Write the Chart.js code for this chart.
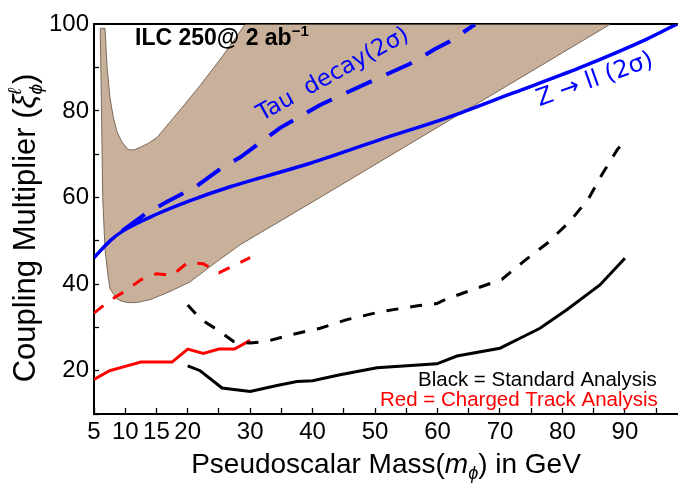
<!DOCTYPE html>
<html><head><meta charset="utf-8">
<script src="https://cdn.jsdelivr.net/npm/chart.js@4.4.0/dist/chart.umd.min.js"></script>
<style>html,body{margin:0;padding:0;background:#fff;}#wrap{width:678px;height:484px;position:relative;}</style>
</head><body><div id="wrap"><canvas id="c" width="678" height="484"></canvas></div>
<script>
// ---- data ----
const xTickLabels = [5,10,15,20,30,40,50,60,70,80,90];
const yTickLabels = [20,40,60,80,100];

const regionX = [6.0,6.76,7.1,7.56,8.1,8.68,9.5,10.44,11.4,12.4,13.8,15.1,17.2,19.5,22.0,25.5,29.2,87.6,40.0,28.4,24.0,20.36,17.0,13.96,12.0,10.76,9.5,8.68,7.56,7.24,6.76,6.4,6.2,6.0];
const regionY = [99.1,99.1,90.0,83.0,78.5,75.2,72.8,71.1,71.0,71.6,72.6,73.9,77.5,81.5,85.9,92.5,100,100,59.0,49.1,44.5,40.5,38.2,36.4,35.8,35.7,36.0,36.6,38.9,42.0,48.0,60.0,80.0,99.1];

const redSolidX = [5,7.5,10,12.5,15,17.5,20,22.5,25,27.5,30];
const redSolidY = [18,20,21,22,22,22,25,24,25,25,27];

const redDashedX = [5,7.5,10,12.5,15,17.5,20,22.5,25,27.5,30];
const redDashedY = [33.3,36.2,38.4,41.0,42.4,42.0,45.0,44.7,42.6,44.4,46.1];

const blackSolidX = [20,22,25.5,30,34.3,37.5,40,44.2,50.3,59.9,63.1,70,73.2,76.4,80.7,86,90];
const blackSolidY = [21.1,20.0,16.0,15.2,16.6,17.5,17.7,19.0,20.7,21.6,23.4,25.2,27.5,29.8,34.1,39.8,46.0];

const blackDashedX = [20,22,24.7,27.3,30,32.7,36.8,41.2,45.5,50.8,56.8,59.9,61.5,66,70.3,74,77.6,81.2,84.2,86.4,88.8,89.5];
const blackDashedY = [35.2,32.0,29.5,26.8,26.4,26.8,28.4,29.8,31.8,33.6,35.0,35.5,36.6,38.9,41.1,45.5,49.5,54.5,59.8,65.5,71.1,72.3];

const tauX = [9.5,13.4,16.9,21.5,25.2,28.4,34.8,41.2,49.6,55.6,59.6,62.0,66.0];
const tauY = [52.3,56.4,59.2,62.7,66.6,69.3,76.1,81.4,87.0,90.9,94.3,96.1,100];

const zllX = [5,7.56,9.64,15.1,20.4,26.8,32.7,39.1,50.8,61.5,72.0,82.8,93.5,98.5];
const zllY = [46.1,50.0,52.3,56.2,59.3,62.5,65.0,67.7,73.4,78.4,84.1,90.0,96.6,100.2];

const pts = (xs, ys) => xs.map((x, i) => ({x, y: ys[i]}));
const SANS = '"Liberation Sans", Arial, Helvetica, sans-serif';
const DJV = '"DejaVu Sans", sans-serif';

function drawRuns(ctx, runs, x, y, align, angle) {
  ctx.save();
  ctx.translate(x, y);
  ctx.rotate(angle || 0);
  ctx.textBaseline = 'alphabetic';
  ctx.textAlign = 'left';
  let total = 0;
  runs.forEach(r => { ctx.font = r.font; r.w = (r.adv !== undefined) ? r.adv : ctx.measureText(r.t).width; total += r.w; });
  let cx = align === 'center' ? -total / 2 : (align === 'right' ? -total : 0);
  runs.forEach(r => { ctx.font = r.font; ctx.fillStyle = r.color || '#000'; ctx.fillText(r.t, cx, r.dy || 0); cx += r.w; });
  ctx.restore();
}

const textPlugin = {
  id: 'texts',
  afterDraw(chart) {
    const ctx = chart.ctx;
    const ca = chart.chartArea;
    drawRuns(ctx, [
      {t: 'ILC 250@ 2 ab', font: 'bold 23px ' + SANS},
      {t: '\u22121', font: 'bold 15px ' + SANS, dy: -9}
    ], 135, 45, 'left', 0);
    drawRuns(ctx, [{t: 'Tau  decay(2\u03C3)', font: '23px ' + DJV, color: '#0000ff'}], 336, 80, 'center', -29 * Math.PI / 180);
    drawRuns(ctx, [{t: 'Z \u2192 ll (2\u03C3)', font: '24px ' + DJV, color: '#0000ff'}], 597, 86, 'center', -19.5 * Math.PI / 180);
    drawRuns(ctx, [{t: 'Black = Standard Analysis', font: '20.5px ' + SANS, color: '#000'}], 418, 386, 'left', 0);
    drawRuns(ctx, [{t: 'Red = Charged Track Analysis', font: '20.5px ' + SANS, color: '#ff0000'}], 380, 406, 'left', 0);
    drawRuns(ctx, [
      {t: 'Pseudoscalar Mass(', font: '28px ' + SANS},
      {t: 'm', font: 'italic 28px ' + SANS},
      {t: '\u03D5', font: 'italic 18px ' + SANS, dy: 6},
      {t: ') in GeV', font: '28px ' + SANS}
    ], (ca.left + ca.right) / 2, 473, 'center', 0);
    drawRuns(ctx, [
      {t: 'Coupling Multiplier (', font: '31px ' + SANS},
      {t: '\u03BE', font: 'italic 31px ' + SANS},
      {t: '\u2113', font: 'italic 19px ' + SANS, dy: -14, adv: 0},
      {t: '\u03D5', font: 'italic 19px ' + SANS, dy: 7},
      {t: ')', font: '31px ' + SANS}
    ], 35, 228, 'center', -Math.PI / 2);
  }
};

const lineDs = (xs, ys, color, width, dash, extra) => Object.assign({
  data: pts(xs, ys), showLine: true, fill: false, borderColor: color, backgroundColor: color,
  borderWidth: width, borderDash: dash, pointRadius: 0, tension: 0, borderCapStyle: 'butt'
}, extra || {});

new Chart(document.getElementById('c'), {
  type: 'scatter',
  data: {
    datasets: [
      lineDs(zllX, zllY, '#0000ff', 3.5, [], {cubicInterpolationMode: 'monotone'}),
      lineDs(tauX, tauY, '#0000ff', 4, [28, 16]),
      lineDs(blackSolidX, blackSolidY, '#000000', 3, []),
      lineDs(blackDashedX, blackDashedY, '#000000', 3, [12, 12]),
      lineDs(redSolidX, redSolidY, '#ff0000', 3, []),
      lineDs(redDashedX, redDashedY, '#ff0000', 3, [12, 12]),
      {data: pts(regionX, regionY), showLine: true, fill: 'shape', backgroundColor: '#c9b09a',
       borderColor: '#7a6a5b', borderWidth: 1, pointRadius: 0, tension: 0}
    ]
  },
  options: {
    responsive: false, animation: false, devicePixelRatio: 1,
    layout: {padding: {top: 18, right: 0, left: 0, bottom: 0}},
    plugins: {legend: {display: false}, tooltip: {enabled: false}},
    scales: {
      x: {
        type: 'linear', min: 5, max: 98.5,
        afterBuildTicks: ax => { const t = []; for (let v = 5; v <= 95; v += 5) t.push({value: v}); ax.ticks = t; },
        afterFit: ax => { ax.height = 70; },
        grid: {display: true, drawOnChartArea: false, drawTicks: true, tickLength: -6, tickWidth: 1.3, tickColor: '#000'},
        border: {display: true, color: '#000', width: 2},
        ticks: {autoSkip: false, maxRotation: 0, minRotation: 0, padding: 10, color: '#000',
                font: {family: SANS, size: 24},
                callback: v => xTickLabels.includes(v) ? String(v) : ''}
      },
      y: {
        type: 'linear', min: 10, max: 100,
        afterBuildTicks: ax => { const t = []; for (let v = 10; v <= 100; v += 10) t.push({value: v}); ax.ticks = t; },
        afterFit: ax => { ax.width = 94; },
        grid: {display: true, drawOnChartArea: true, drawTicks: true, tickLength: -5, tickWidth: 1.3, tickColor: '#000',
               color: c => (c.tick && c.tick.value === 100) ? '#000' : 'rgba(0,0,0,0)',
               lineWidth: c => (c.tick && c.tick.value === 100) ? 2 : 1},
        border: {display: true, color: '#000', width: 2},
        ticks: {autoSkip: false, padding: 10, color: '#000', font: {family: SANS, size: 24},
                callback: v => yTickLabels.includes(v) ? String(v) : ''}
      }
    }
  },
  plugins: [textPlugin]
});
</script></body></html>
